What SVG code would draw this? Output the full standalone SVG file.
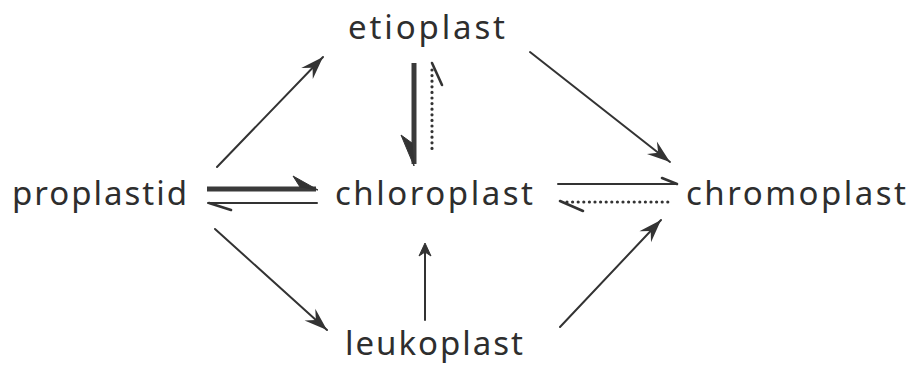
<svg xmlns="http://www.w3.org/2000/svg" width="917" height="367" viewBox="0 0 917 367">
<style>
.lbl{font-family:"Noto Sans","Open Sans","DejaVu Sans",sans-serif;font-size:33px;fill:#2e2e2e}
.ln{stroke:#333;stroke-width:2;fill:none;stroke-linecap:round}
.thick{stroke:#3a3a3a;stroke-width:5;fill:none;stroke-linecap:butt}
.dot{stroke:#333;stroke-width:3.2;fill:none;stroke-linecap:round;stroke-dasharray:0 5.6}
.bar{stroke:#333;stroke-width:2.6;fill:none;stroke-linecap:round}
.hd{fill:#333;stroke:#333;stroke-width:1;stroke-linejoin:round}
</style>
<defs>
<marker id="ah" markerUnits="userSpaceOnUse" markerWidth="30" markerHeight="20" viewBox="-24 -10 26 20" refX="0" refY="0" orient="auto">
<path d="M0,0 L-23,-8 L-15,0 L-23,8 Z" fill="#333"/>
</marker>
</defs>
<rect width="917" height="367" fill="#fff"/>
<g id="proplastid"><text class="lbl" x="12" y="205" textLength="175" lengthAdjust="spacing">proplastid</text></g>
<g id="etioplast"><text class="lbl" x="348" y="39" textLength="157" lengthAdjust="spacing">etioplast</text></g>
<g id="chloroplast"><text class="lbl" x="335" y="205" textLength="198" lengthAdjust="spacing">chloroplast</text></g>
<g id="chromoplast"><text class="lbl" x="686" y="205" textLength="220" lengthAdjust="spacing">chromoplast</text></g>
<g id="leukoplast"><text class="lbl" x="345" y="355" textLength="178" lengthAdjust="spacing">leukoplast</text></g>
<g id="connectors">
<line class="ln" x1="217" y1="167" x2="323" y2="57" marker-end="url(#ah)"/>
<line class="ln" x1="530" y1="52" x2="670" y2="162" marker-end="url(#ah)"/>
<line class="ln" x1="215" y1="229" x2="327" y2="330" marker-end="url(#ah)"/>
<line class="ln" x1="560" y1="327" x2="661" y2="220" marker-end="url(#ah)"/>
<line class="thick" x1="207" y1="189" x2="316" y2="189"/>
<path class="hd" d="M318,190 L293,176 L300,187 Z"/>
<line class="ln" x1="208" y1="203" x2="317" y2="203"/>
<path class="bar" d="M209,203 L231,210"/>
<line class="thick" x1="414" y1="63" x2="414" y2="164"/>
<path class="hd" d="M414,166 L401,135 L412,143 Z"/>
<line class="dot" x1="432" y1="70" x2="432" y2="153"/>
<path class="bar" d="M432,63 L442,85"/>
<line class="ln" x1="558" y1="184" x2="676" y2="184"/>
<path class="bar" d="M677,184 L662,178"/>
<line class="dot" x1="567" y1="202" x2="672" y2="202"/>
<path class="bar" d="M560,201 L583,211"/>
<line class="ln" x1="425" y1="320" x2="425" y2="247"/>
<path class="hd" d="M425,243 L419,256 L425,252 L431,256 Z"/>
</g>
</svg>
